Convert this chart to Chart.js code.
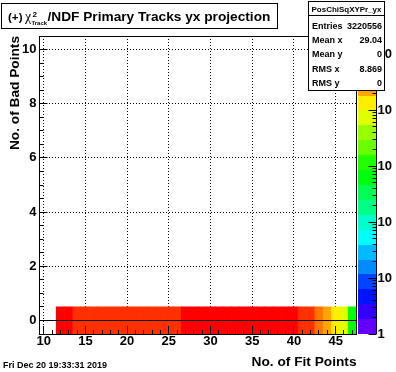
<!DOCTYPE html>
<html>
<head>
<meta charset="utf-8">
<script src="https://cdn.jsdelivr.net/npm/chart.js"></script>
<style>
  html, body { margin: 0; padding: 0; background: #fff; }
</style>
</head>
<body>
<canvas id="c" width="396" height="372"></canvas>
<script>
// bins of the 2D histogram (x = no. of fit points, all entries sit in the y = 0 row)
var fitPoints = [12, 13, 14, 15, 16, 17, 18, 19, 20, 21, 22, 23, 24, 25, 26, 27, 28, 29,
                 30, 31, 32, 33, 34, 35, 36, 37, 38, 39, 40, 41, 42, 43, 44, 45, 46, 47];
var entries = [119000, 121000, 98000, 84000, 79000, 76000, 72000, 70000, 68000, 67000, 66000, 66000,
               67000, 69000, 73000, 119000, 121000, 126000, 130000, 133000, 135000, 136000, 136000, 134000,
               131000, 127000, 122000, 121000, 117000, 96000, 68000, 44000, 24000, 12500, 6800, 620];
var badPointsRow = 0;

var xTickValues = [10, 15, 20, 25, 30, 35, 40, 45];
var yTickValues = [0, 2, 4, 6, 8, 10];
var zTickValues = [1, 10, 100, 1000, 10000, 100000];
var zTickLabels = ['1', '10', '10', '10', '10', '10'];

var statsName = 'PosChiSqXYPr_yx';
var statsLabels = ['Entries', 'Mean x', 'Mean y', 'RMS x', 'RMS y'];
var statsValues = ['3220556', '29.04', '0', '8.869', '0'];
var dateText = 'Fri Dec 20 19:33:31 2019';

var zMin = 1, zMax = 2.1e5, nContours = 20;
var FONT = "'Liberation Sans', Arial, Helvetica, sans-serif";

// ROOT "pretty palette" : 50 hues violet -> red, picked per contour
function bandOf(z) {
  var k = Math.floor(Math.log10(z / zMin) / Math.log10(zMax / zMin) * nContours);
  return Math.max(0, Math.min(nContours - 1, k));
}
function bandColor(k) {
  var idx = Math.floor((k + 0.99) * 50 / nContours);
  var hue = 280 - (idx + 1) * 5.6;
  return 'hsl(' + hue + ',100%,50%)';
}

function crisp(p) { return Math.round(p - 0.5) + 0.5; }
function line(c, x1, y1, x2, y2) { c.beginPath(); c.moveTo(x1, y1); c.lineTo(x2, y2); c.stroke(); }
// draw text with the font size that makes it the given width
function fitText(c, txt, x, y, width, style) {
  c.font = style + ' 10px ' + FONT;
  var size = 10 * width / c.measureText(txt).width;
  c.font = style + ' ' + size.toFixed(2) + 'px ' + FONT;
  c.fillText(txt, x, y);
}

var rootDecor = {
  id: 'rootDecor',
  beforeDraw: function(chart) {
    var c = chart.ctx;
    c.save(); c.fillStyle = '#fff'; c.fillRect(0, 0, chart.width, chart.height); c.restore();
  },
  afterDatasetsDraw: function(chart) {
    var c = chart.ctx, a = chart.chartArea;
    var sx = chart.scales.x, sy = chart.scales.y, sz = chart.scales.z;
    c.save();
    c.strokeStyle = '#000';
    c.lineWidth = 1;

    var y0 = crisp(sy.getPixelForValue(0));
    line(c, a.left, y0, a.right, y0);

    // tick marks, inside the frame
    for (var v = 10; v <= 47; v++) {
      var px = crisp(sx.getPixelForValue(v));
      line(c, px, a.bottom, px, a.bottom - (v % 5 === 0 ? 8 : 4));
    }
    for (var w = -0.5; w <= 10.5; w += 0.5) {
      var py = crisp(sy.getPixelForValue(w));
      line(c, a.left, py, a.left + (w % 2 === 0 ? 8 : 4), py);
    }
    c.strokeRect(crisp(a.left), crisp(a.top), Math.round(a.right - a.left), Math.round(a.bottom - a.top));

    // colour palette
    var pl = Math.round(a.right) + 1, pr = pl + 18;
    var lmax = Math.log10(zMax / zMin);
    for (var k = 0; k < nContours; k++) {
      var yb = Math.round(sz.getPixelForValue(zMin * Math.pow(10, lmax * k / nContours)));
      var yt = Math.round(sz.getPixelForValue(zMin * Math.pow(10, lmax * (k + 1) / nContours)));
      c.fillStyle = bandColor(k);
      c.fillRect(pl, yt, pr - pl, yb - yt);
    }
    var ax = pr + 0.5;
    line(c, ax, sz.top, ax, sz.bottom);
    for (var e = 0; e <= 5; e++) {
      for (var m = 1; m <= 9; m++) {
        var zv = m * Math.pow(10, e);
        if (zv > zMax) break;
        var pz = crisp(sz.getPixelForValue(zv));
        line(c, ax, pz, ax - (m === 1 ? 8 : 4), pz);
      }
    }
    c.restore();
  },
  afterDraw: function(chart) {
    var c = chart.ctx;
    c.save();
    c.strokeStyle = '#000';
    c.lineWidth = 1;
    c.textAlign = 'left';
    c.textBaseline = 'alphabetic';

    // title pave
    c.fillStyle = '#fff';
    c.fillRect(1.5, 3.5, 276, 25);
    c.strokeRect(1.5, 3.5, 276, 25);
    c.fillStyle = '#000';
    fitText(c, '(+)', 8, 21, 14.5, 'bold');
    c.font = "14px 'Liberation Serif', serif";
    c.fillText('\u03c7', 25, 21);
    fitText(c, '2', 32.5, 16.5, 4.5, 'bold');
    fitText(c, 'Track', 31.5, 25, 15.5, 'bold');
    fitText(c, '/NDF Primary Tracks yx projection', 47.5, 21, 223, 'bold');

    // stats box
    var bx = 308.5, by = 1.5, bw = 76, bh = 89;
    c.fillStyle = '#fff';
    c.fillRect(bx, by, bw, bh);
    c.strokeRect(bx, by, bw, bh);
    line(c, bx, 15.5, bx + bw, 15.5);
    c.fillStyle = '#000';
    c.textAlign = 'center';
    fitText(c, statsName, bx + bw / 2, 11.5, 70, 'bold');
    var rowY = [28.5, 43, 57, 71.5, 86];
    c.font = 'bold 9px ' + FONT;
    for (var i = 0; i < statsLabels.length; i++) {
      c.textAlign = 'left';
      c.fillText(statsLabels[i], 312, rowY[i]);
      c.textAlign = 'right';
      c.fillText(statsValues[i], 382, rowY[i]);
    }

    // date stamp
    c.textAlign = 'left';
    fitText(c, dateText, 3, 368, 104, 'bold');
    c.restore();
  }
};

var ctx = document.getElementById('c').getContext('2d');
var chart = new Chart(ctx, {
  type: 'bar',
  data: {
    datasets: [{
      data: fitPoints.map(function(x) { return { x: x, y: [badPointsRow - 0.5, badPointsRow + 0.5] }; }),
      backgroundColor: entries.map(function(z) { return bandColor(bandOf(z)); }),
      borderWidth: 0,
      barPercentage: 1,
      categoryPercentage: 1
    }]
  },
  options: {
    responsive: false,
    animation: false,
    layout: { padding: { top: 36, left: 0, right: 0, bottom: 0 } },
    plugins: { legend: { display: false }, tooltip: { enabled: false } },
    scales: {
      x: {
        type: 'linear',
        position: 'bottom',
        min: 9.5,
        max: 47.5,
        offset: false,
        afterFit: function(axis) { axis.height = 38; },
        afterBuildTicks: function(axis) { axis.ticks = xTickValues.map(function(v) { return { value: v }; }); },
        grid: { offset: false, color: '#000', lineWidth: 1, drawTicks: false },
        border: { display: false, dash: [1, 2] },
        ticks: { color: '#000', padding: 0, autoSkip: false, maxRotation: 0, font: { family: FONT, size: 13, weight: 'bold' } },
        title: { display: true, text: 'No. of Fit Points', align: 'end', color: '#000',
                 padding: { top: 0, bottom: 1.2 }, font: { family: FONT, size: 13.7, weight: 'bold' } }
      },
      y: {
        type: 'linear',
        position: 'left',
        min: -0.5,
        max: 10.5,
        afterFit: function(axis) { axis.width = 39.5; },
        afterBuildTicks: function(axis) { axis.ticks = yTickValues.map(function(v) { return { value: v }; }); },
        grid: { color: '#000', lineWidth: 1, drawTicks: false },
        border: { display: false, dash: [1, 2] },
        ticks: { color: '#000', padding: 3, autoSkip: false, font: { family: FONT, size: 13, weight: 'bold' } },
        title: { display: true, text: 'No. of Bad Points', align: 'end', color: '#000',
                 padding: { top: 6.9, bottom: 0 }, font: { family: FONT, size: 13.7, weight: 'bold' } }
      },
      z: {
        type: 'logarithmic',
        position: 'right',
        min: zMin,
        max: zMax,
        afterFit: function(axis) { axis.width = 39.5; },
        afterBuildTicks: function(axis) { axis.ticks = zTickValues.map(function(v) { return { value: v }; }); },
        grid: { display: false, drawTicks: false },
        border: { display: false },
        ticks: {
          color: '#000', padding: 21, autoSkip: false,
          font: { family: FONT, size: 13, weight: 'bold' },
          callback: function(value, index) { return zTickLabels[index]; }
        }
      }
    }
  },
  plugins: [rootDecor]
});
</script>
</body>
</html>
